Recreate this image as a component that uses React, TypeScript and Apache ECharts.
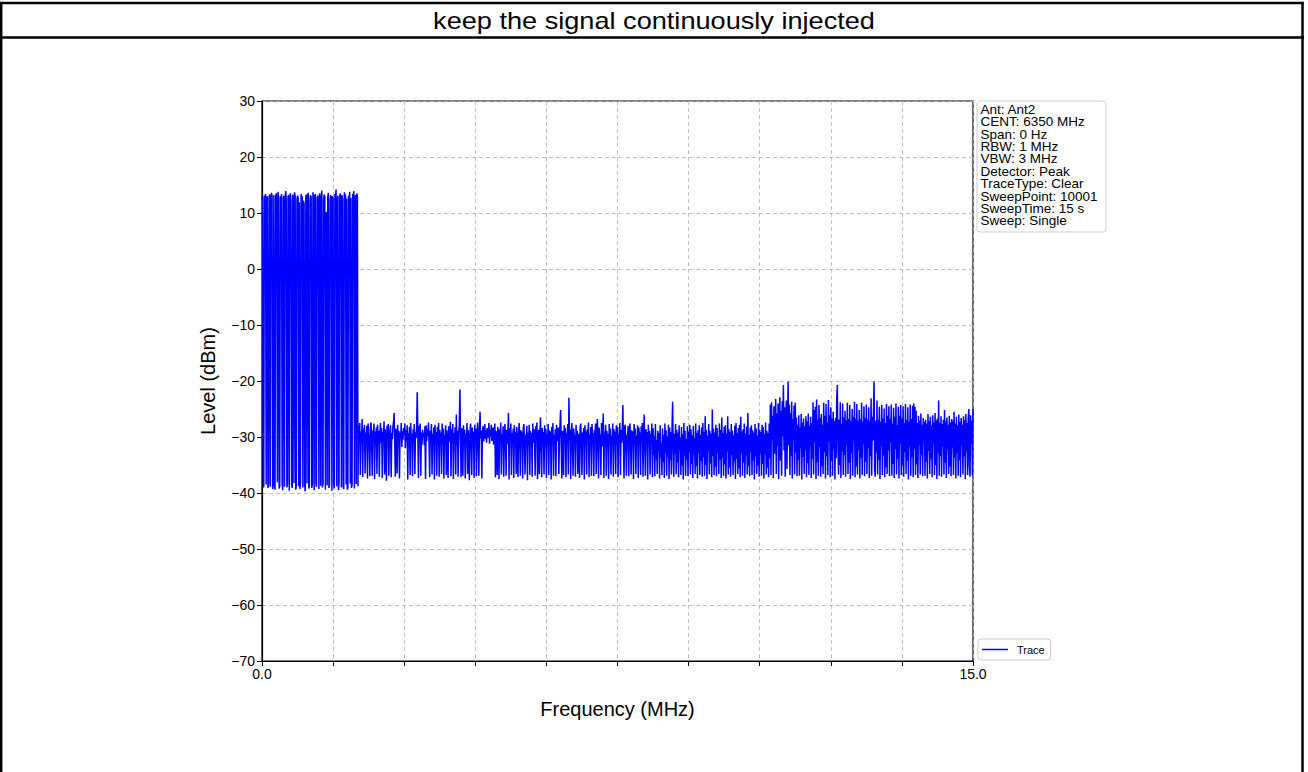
import React, { useEffect, useRef } from "react";
import * as echarts from "echarts";

const chartTitle = "keep the signal continuously injected";
const xAxisName = "Frequency (MHz)";
const yAxisName = "Level (dBm)";
const seriesName = "Trace";
const sweepStart = 0;
const sweepEnd = 15;
const xTickStep = 1.5;
const yMin = -70;
const yMax = 30;
const yTickStep = 10;
const infoLines = [
  "Ant: Ant2",
  "CENT: 6350 MHz",
  "Span: 0 Hz",
  "RBW: 1 MHz",
  "VBW: 3 MHz",
  "Detector: Peak",
  "TraceType: Clear",
  "SweepPoint: 10001",
  "SweepTime: 15 s",
  "Sweep: Single",
];

// Trace samples are evenly spaced over the sweep (0.0125 MHz apart); each row = 0.25 MHz.
// Burst part (signal on), 0 .. ~2.03 MHz
const burstLevels = [
  12.5, 12.9, -38.2, -39, 13.1, 12.6, 13.4, -38.5, 12.2, 13, -39.1, -38.4, 12.8, 13.3, -38.9, 12.4, 13.6, 12.9, -39.3, -38,
  13.2, -38.6, -39.4, 12.7, 13.5, 12.1, -38.1, 13.8, 12.6, -39.2, -38.7, 13, 12.3, 13.4, -38.4, -39.5, 12.8, 13.1, -38.9, 12.5,
  13.9, 12.4, -39, -38.3, 12.9, 13.2, -39.6, 12.7, 13.5, 12, -38.5, -39.1, 13.3, 12.6, -38.2, 13.7, 12.9, -39.4, -38.6, 12.4,
  13.1, 12.8, -38.8, 11.9, -39.3, -38.1, 13.4, 12.5, 13, -39, 12.2, 11.6, -38.5, -39.7, 12.9, 13.3, -38.3, 12.7, 13.6, -39.2,
  -38.6, 12.4, 13.2, 12.8, -39.1, -38.4, 13.7, 12.3, -39.5, 12.9, 13.4, -38.2, -38.9, 12.6, 13.1, 12, -39.3, 13.5, 12.7, -38.7,
  13, 14, -39, -38.3, 12.5, 13.3, 12.9, -39.4, 10.2, 9.8, -38.6, 12.8, 13.6, -39.1, -38.5, 12.4, 13.2, 12.7, -39.6, 13,
  12.6, -38.4, -39.2, 13.4, 12.9, 14.2, -38.8, 12.3, 13.1, -39.5, -38.1, 12.8, 13.5, 12.5, -39, 13.2, 12.4, -38.6, -39.3, 13.7,
  12.9, 13.3, -38.5, 12.6, -39.4, -38.9, 13.1, 12.2, 13.8, -38.3, 12.7, -39.1, -38.6, 13.4, 12.8, 13.9, -39.2, 12.5, 13.2, -38.4,
  13.5, 12.9, -38.8,
];

// Noise-floor part, ~2.04 .. 15 MHz
const noiseLevels = [
  -28, -30.5, -27.5, -36.8, -29, -31, -26.8, -37.2, -28.5, -30, -27.8, -36.5, -29.2, -31.2, -28, -37.4, -27.6,
  -29.5, -30.8, -37, -28.2, -27.4, -31, -36.9, -28.8, -30.2, -27.6, -37.5, -29, -31.4, -28.3, -36.6, -27.8, -30.5, -28.9, -37.1, -29.4,
  -27.5, -31, -28.4, -37.3, -29.1, -30.3, -27.2, -36.7, -28.6, -31.5, -37.8, -28, -29.8, -27.7, -36.9, -30.6, -28.7, -27.9, -37.2, -29.3,
  -30.4, -28.1, -27.3, -25.7, -30.8, -37.1, -28.5, -29.6, -36.5, -27.8, -31.1, -28.9, -37.4, -29.2, -30.3, -27.5, -31.8, -29, -30.5, -28.4,
  -29.7, -27.6, -32, -28.8, -30.6, -27.9, -37.6, -29.3, -30.1, -28.2, -36.8, -27.5, -31.3, -29.4, -37, -28.6, -30.4, -27.7, -36.6, -29.1,
  -30.2, -28.4, -22, -29.5, -37.3, -28, -30.9, -27.6, -36.9, -29.2, -31.4, -28.7, -30, -29.3, -31.5, -28.1, -37.5, -27.9, -30.7, -28.6,
  -29.8, -27.4, -31.2, -37.2, -28.9, -30.1, -27.7, -36.7, -29.4, -31, -28.3, -37.6, -27.8, -30.6, -29.1, -36.9, -28.2, -31.3, -27.5, -37.1,
  -28.7, -30.4, -29.2, -36.6, -27.6, -31.1, -28.5, -37.4, -29.7, -30.2, -27.9, -36.8, -28.8, -31.6, -37.3, -28.1, -29.5, -30.8, -27.3, -37,
  -28.6, -30.9, -27.7, -37.5, -29.3, -30.1, -28.2, -36.7, -26, -31.4, -28.9, -37.1, -29.6, -27.8, -21.5, -30.5, -37.2, -28.4, -29.9, -36.9,
  -27.9, -31.2, -28.7, -37.4, -29.4, -30.3, -27.5, -36.6, -28.8, -31, -37.7, -29.1, -27.6, -30.7, -36.8, -28.3, -31.5, -29, -37.3, -27.8,
  -30.6, -28.5, -37, -29.3, -27.4, -31.1, -36.9, -28.6, -25.5, -30.2, -28.9, -37.4, -29.5, -28.1, -30.8, -29, -27.7, -30.4, -28.8, -31,
  -28.4, -30.1, -29.6, -27.5, -31.2, -28.7, -29.9, -27.8, -30.7, -29.2, -28.3, -31.4, -29, -27.6, -37.2, -28.9, -30.5, -36.8, -28.2, -29.7,
  -37.5, -28.6, -30.3, -27.4, -36.7, -29.5, -31.1, -28.1, -37.1, -29.8, -27.7, -30.6, -36.9, -28.7, -31.3, -29.2, -25.7, -37.6, -28.4, -30,
  -27.6, -36.8, -29.3, -31, -28.5, -37.3, -27.9, -30.4, -29.1, -36.6, -28.2, -31.5, -37.2, -29.4, -27.5, -30.2, -36.9, -28.8, -30.7, -29,
  -37.4, -28.3, -27.7, -31.2, -36.7, -29.6, -30.1, -28, -37.7, -29.2, -31.4, -27.8, -36.8, -28.9, -30.5, -29.3, -37.1, -27.6, -31, -28.6,
  -30.3, -36.9, -28.1, -29.7, -27.4, -37.5, -30.8, -28.7, -36.6, -29.5, -26.5, -31.1, -37.2, -28.4, -30, -29.1, -36.7, -27.9, -31.6, -28.5,
  -37.3, -29.4, -30.6, -27.7, -36.8, -28.8, -31.2, -29, -37.6, -28.2, -30.2, -27.5, -36.9, -29.6, -31, -28.6, -37, -27.8, -30.7, -29.2,
  -28.3, -36.6, -30.4, -27.6, -25.2, -31.3, -37.4, -28.9, -29.5, -36.8, -27.9, -30.9, -28.4, -37.2, -29.3, -31.1, -27.7, -36.7, -23, -30.5,
  -28.7, -37.5, -29.1, -27.5, -31.4, -36.9, -28.5, -30.2, -29.7, -37.1, -27.8, -31, -28.9, -36.6, -29.4, -30.6, -37.3, -28.1, -27.6, -31.2,
  -36.8, -29.2, -30.3, -28.4, -37.6, -27.9, -31.5, -29, -36.7, -28.6, -30.1, -27.4, -37.2, -29.5, -30.8, -28.2, -36.9, -27.7, -31.1, -29.3,
  -37, -28.8, -30.5, -27.6, -36.6, -29.1, -26.8, -31.3, -37.4, -28.3, -30, -29.6, -36.8, -27.5, -31.7, -28.7, -25.8, -37.3, -29.2, -30.4,
  -27.8, -36.9, -28.9, -31, -29.4, -37.5, -27.7, -30.6, -28.5, -36.7, -29.8, -31.2, -27.6, -37.1, -28.6, -30.3, -29, -36.6, -27.9, -31.4,
  -28.2, -37.2, -29.5, -30.1, -27.5, -36.8, -28.7, -31, -29.1, -24.3, -30.7, -37.4, -28.4, -27.8, -31.3, -36.9, -29.6, -30.2, -28, -37,
  -29.3, -27.6, -30.8, -36.7, -28.8, -31.1, -29, -37.5, -27.7, -30.4, -28.5, -36.6, -29.7, -31.5, -27.9, -37.3, -28.3, -30, -29.2, -36.8,
  -28.1, -30.9, -27.5, -37.1, -29.4, -26, -31.2, -36.9, -28.6, -30.3, -29.1, -37.6, -27.8, -31, -28.9, -36.7, -29.5, -30.6, -27.6, -37.2,
  -28.4, -33.2, -29.8, -37, -27.7, -34, -30.5, -36.6, -28.9, -32.6, -29.3, -37.4, -27.9, -33.8, -31, -36.8, -28.5, -34.5, -29.6, -37.3,
  -27.6, -32.8, -28.8, -36.9, -29.9, -33.5, -27.8, -37.5, -28.3, -34.2, -29.1, -36.7, -28.6, -23.7, -31.3, -37.1, -29.4, -33, -27.7, -36.6,
  -28.7, -34.6, -29.2, -37.2, -27.9, -32.4, -30.1, -36.8, -28.2, -35.1, -29.5, -37.6, -27.5, -33.3, -28.9, -36.9, -30.4, -34, -28.1, -37,
  -29, -32.7, -27.8, -36.7, -28.6, -34.8, -29.7, -37.3, -28, -33.1, -30.2, -36.6, -27.6, -35.2, -29.3, -37.4, -28.8, -32.9, -27.9, -36.8,
  -29.6, -34.3, -28.3, -37.1, -27.5, -33.6, -29.1, -36.9, -26.3, -35, -28.7, -37.5, -29.8, -32.5, -27.7, -36.7, -28.9, -34.7, -29.4, -37.2,
  -25.1, -33.4, -28.5, -36.8, -29.2, -35.3, -27.8, -37, -28.4, -32.8, -29.9, -36.6, -27.6, -34.1, -28.7, -37.3, -26.5, -33.7, -29.3, -36.9,
  -28.2, -34.9, -27.9, -37.4, -29.5, -32.6, -26.3, -36.7, -28.6, -35.4, -29.1, -37.1, -27.7, -33.2, -28.9, -36.8, -29.7, -34.4, -28, -37.5,
  -27.5, -33.9, -29.3, -36.6, -28.4, -35.6, -27.8, -37.2, -26.4, -32.9, -29, -36.9, -28.6, -34.6, -27.6, -37.3, -29.4, -33.3, -28.1, -36.7,
  -25.7, -35.2, -29.6, -37, -28.3, -32.7, -27.9, -36.8, -28.8, -34.2, -29.2, -37.6, -27.7, -33.5, -28.5, -36.6, -29.8, -35.1, -27.5, -37.1,
  -28.7, -32.9, -29.1, -36.9, -27.8, -34.8, -28.2, -37.4, -29.5, -33.1, -27.4, -36.7, -28.9, -35.5, -29.3, -37.2, -27.6, -33.8, -24.2, -36.8,
  -23.8, -30.5, -26.2, -37.3, -24.5, -33, -28.4, -23.2, -36.6, -25.8, -31.6, -24, -37.5, -27.1, -22.9, -34.2, -25.3, -36.9, -23.6, -29.8,
  -20.7, -32.4, -24.7, -37.1, -26.3, -23.5, -35.7, -27.2, -20.1, -31.5, -24.2, -36.8, -25.7, -33.4, -23.7, -37.4, -26.8, -30.6, -24.4, -36.7,
  -23.9, -32.8, -26.5, -37, -27.8, -34.1, -26.1, -36.9, -28.3, -31.9, -25.9, -37.6, -27.4, -33.6, -26.7, -36.6, -28.1, -32.2, -26.3, -37.2,
  -27.2, -34.7, -25.8, -36.8, -28, -31.7, -26.4, -37.3, -27.5, -33.9, -23.8, -36.7, -25.2, -30.9, -24.6, -37.5, -23.3, -34.5, -26.9, -36.9,
  -24.3, -31.8, -26.6, -37.1, -25.9, -35.2, -27.8, -36.6, -23.9, -32.7, -26.2, -37.4, -24.1, -33.5, -27.4, -36.8, -23.4, -30.8, -26.1, -37.2,
  -24.7, -34.3, -26.7, -36.9, -25.5, -32.1, -27.2, -37.6, -26.6, -33.8, -23.3, -20.7, -31.4, -36.7, -26.9, -35, -23.8, -37.3, -27.6, -32.6,
  -24, -36.8, -26.5, -33.2, -25.3, -37.1, -27, -31.5, -23.9, -36.6, -26.8, -34.6, -24.3, -37.5, -27.2, -32.9, -25, -36.9, -26.4, -30.7,
  -23.7, -37.2, -26.7, -35.3, -24.1, -36.7, -27.1, -32.3, -25.2, -37.4, -26.8, -33.7, -23.9, -36.8, -27.3, -31.2, -24.5, -37, -26.6, -34.4,
  -24.2, -36.6, -26.9, -31.9, -24.7, -37.3, -27.2, -33.4, -23.1, -36.9, -26.4, -30.6, -25.6, -20.1, -35.8, -37.1, -27.1, -32.8, -23.5, -36.7,
  -26.9, -34.1, -24.6, -37.5, -27.3, -31.6, -24.3, -36.8, -26.7, -33.3, -24.9, -37.2, -27.5, -35.4, -24.1, -36.6, -26.2, -32.4, -24.5, -37,
  -26.8, -30.9, -24.2, -36.9, -27.6, -34.8, -24.8, -37.3, -26.4, -32.2, -24, -36.7, -27.9, -33.9, -24.6, -37.4, -26.2, -31.3, -24.3, -36.8,
  -26.7, -35.1, -24.5, -37.1, -27.5, -32.7, -24.1, -36.6, -26.9, -34.3, -24.7, -37.6, -27.3, -31.8, -24.2, -36.9, -26.8, -33.6, -24.4, -37.2,
  -24, -32.1, -24.6, -36.8, -25.3, -34.9, -27.5, -37.3, -26.2, -31.4, -27.1, -36.7, -25.8, -33.2, -27.8, -37, -26.6, -30.8, -27.3, -36.9,
  -26.9, -34.4, -27.6, -37.4, -25.9, -32.5, -27.2, -36.6, -26.4, -33.9, -27.9, -37.2, -26.1, -31.1, -27.4, -36.8, -25.7, -35, -27, -37.5,
  -26.7, -32.9, -23.5, -36.9, -27.5, -33.4, -26.3, -37.1, -27.7, -31.7, -26.9, -36.7, -25.2, -34.6, -27.2, -37.3, -26.5, -32.3, -27.8, -36.6,
  -26.2, -35.3, -27.4, -37, -26.8, -31.9, -27.1, -36.8, -25.5, -33.7, -27.6, -37.4, -26.4, -32.8, -27.9, -36.9, -26, -34.1, -27.3, -37.2,
  -26.6, -31.5, -27.8, -36.7, -26.3, -33.5, -27, -37.5, -25.9, -32.6, -27.5, -36.8, -26.7, -25, -34.9, -37.1, -26.1, -31.2, -27.2, -36.9,
  -25,
];

const levels = [...burstLevels, ...noiseLevels];

const FONT = "'Liberation Sans', Arial, Helvetica, sans-serif";

export default function App() {
  const ref = useRef<HTMLDivElement>(null);

  useEffect(() => {
    if (!ref.current) return;
    const chart = echarts.init(ref.current, undefined, { renderer: "svg" });
    const step = (sweepEnd - sweepStart) / (levels.length - 1);
    const traceData = levels.map((v, i) => [sweepStart + i * step, v]);
    const minus = (v: number) => (v < 0 ? "\u2212" + Math.abs(v) : String(v));

    chart.setOption({
      animation: false,
      backgroundColor: "#ffffff",
      textStyle: { fontFamily: FONT },
      grid: {
        left: 262,
        top: 101,
        width: 711,
        height: 560,
        show: true,
        borderColor: "#000000",
        borderWidth: 1.2,
        backgroundColor: "transparent",
      },
      legend: {
        show: true,
        data: [seriesName],
        left: 978,
        top: 639,
        orient: "vertical",
        padding: [5, 6, 5, 4],
        itemWidth: 26,
        itemHeight: 1.5,
        icon: "rect",
        borderColor: "#cccccc",
        borderWidth: 1,
        borderRadius: 3,
        backgroundColor: "#ffffff",
        textStyle: { fontSize: 11, color: "#000", fontFamily: FONT, padding: [0, 0, 0, 4] },
        itemStyle: { color: "#0000ff" },
      },
      xAxis: {
        type: "value",
        min: sweepStart,
        max: sweepEnd,
        interval: xTickStep,
        name: xAxisName,
        nameLocation: "middle",
        nameGap: 38,
        nameTextStyle: { fontSize: 20, color: "#000", fontFamily: FONT },
        axisLine: { show: true, onZero: false, lineStyle: { color: "#000", width: 1.2 } },
        axisTick: { show: true, length: 5, lineStyle: { color: "#000", width: 1 } },
        axisLabel: {
          fontSize: 14,
          color: "#000",
          margin: 6,
          fontFamily: FONT,
          formatter: (v: number) =>
            Math.abs(v - sweepStart) < 1e-9
              ? sweepStart.toFixed(1)
              : Math.abs(v - sweepEnd) < 1e-9
              ? sweepEnd.toFixed(1)
              : "",
        },
        splitLine: { show: true, lineStyle: { color: "#b0b0b0", type: [4, 3], width: 0.8 } },
      },
      yAxis: {
        type: "value",
        min: yMin,
        max: yMax,
        interval: yTickStep,
        name: yAxisName,
        nameLocation: "middle",
        nameGap: 44,
        nameRotate: 90,
        nameTextStyle: { fontSize: 20, color: "#000", fontFamily: FONT },
        axisLine: { show: true, lineStyle: { color: "#000", width: 1.2 } },
        axisTick: { show: true, length: 5, lineStyle: { color: "#000", width: 1 } },
        axisLabel: { fontSize: 14, color: "#000", margin: 7, fontFamily: FONT, formatter: minus },
        splitLine: { show: true, lineStyle: { color: "#b0b0b0", type: [4, 3], width: 0.8 } },
      },
      series: [
        {
          name: seriesName,
          type: "line",
          data: traceData,
          showSymbol: false,
          symbol: "none",
          lineStyle: { color: "#0000ff", width: 1.5, join: "miter", miterLimit: 4 },
          itemStyle: { color: "#0000ff" },
          clip: true,
        },
      ],
      graphic: [
        { type: "line", shape: { x1: 1.2, y1: 2, x2: 1.2, y2: 772 }, style: { stroke: "#000", lineWidth: 2.5 } },
        { type: "line", shape: { x1: 1302.5, y1: 2, x2: 1302.5, y2: 772 }, style: { stroke: "#000", lineWidth: 2.5 } },
        { type: "line", shape: { x1: 0, y1: 3, x2: 1304, y2: 3 }, style: { stroke: "#000", lineWidth: 2.5 } },
        { type: "line", shape: { x1: 0, y1: 37.5, x2: 1304, y2: 37.5 }, style: { stroke: "#000", lineWidth: 2.5 } },
        {
          type: "text",
          x: 654,
          y: 20.5,
          scaleX: 1.18,
          style: {
            text: chartTitle,
            fontSize: 23,
            fontFamily: FONT,
            fill: "#000",
            textAlign: "center",
            textVerticalAlign: "middle",
          },
        },
        {
          type: "rect",
          shape: { x: 977, y: 101, width: 129, height: 131, r: 3 },
          style: { fill: "#ffffff", stroke: "#cccccc", lineWidth: 1 },
        },
        {
          type: "text",
          x: 980.5,
          y: 103,
          style: {
            text: infoLines.join("\n"),
            fontSize: 13.5,
            lineHeight: 12.4,
            fontFamily: FONT,
            fill: "#000",
            textAlign: "left",
            textVerticalAlign: "top",
          },
        },
      ],
    });

    return () => chart.dispose();
  }, []);

  return (
    <div style={{ position: "fixed", left: 0, top: 0, width: 1308, height: 772, background: "#fff" }}>
      <div ref={ref} style={{ width: 1308, height: 772 }} />
    </div>
  );
}
